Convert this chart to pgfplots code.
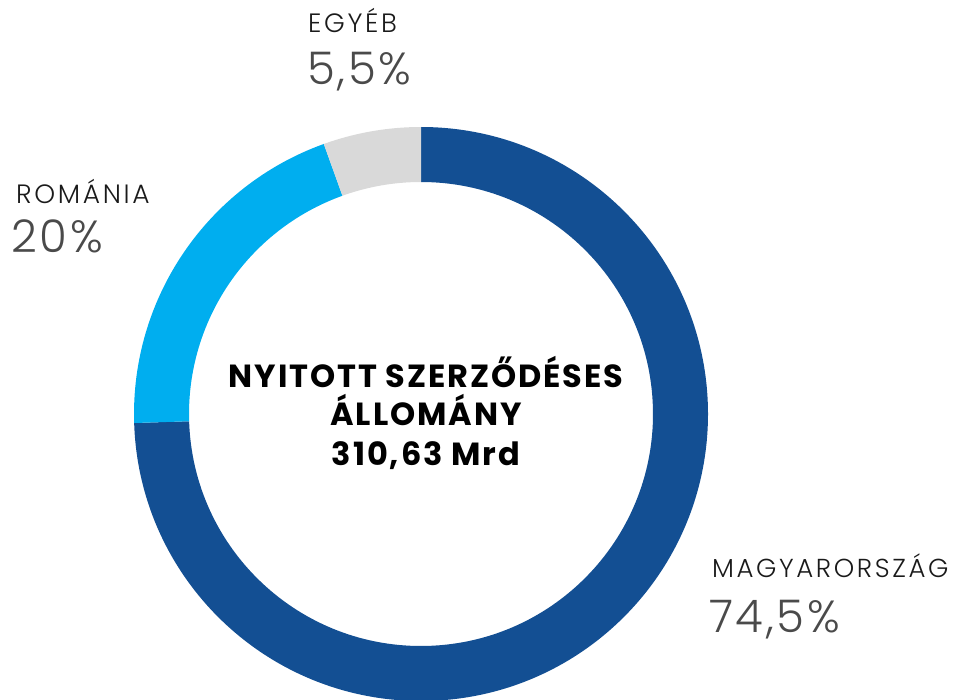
\documentclass[border=0pt]{standalone}
\usepackage{pgfplots}
\pgfplotsset{compat=1.18}
\usepackage{pgfplotstable}
\usepackage{fontspec}
\setmainfont{Poppins}
\newfontfamily\namefont{Poppins Light}[LetterSpace=10]
\newfontfamily\pctfont{Poppins Light}[LetterSpace=6]
\newfontfamily\ctrfont{Poppins}[LetterSpace=6]
\definecolor{cHU}{HTML}{134F93}
\definecolor{cRO}{HTML}{00AEEF}
\definecolor{cOT}{HTML}{D9D9D9}
\definecolor{pct}{HTML}{4A4A4A}
\definecolor{nm}{HTML}{1A1A1A}
\pgfplotstableread{
name share
HU 74.5
RO 20
OT 5.5
}\shares
\pgfplotstablegetelem{0}{share}\of\shares \let\vHU\pgfplotsretval
\pgfplotstablegetelem{1}{share}\of\shares \let\vRO\pgfplotsretval
\pgfplotstablegetelem{2}{share}\of\shares \let\vOT\pgfplotsretval
\begin{document}
\begin{tikzpicture}
\begin{axis}[at={(0,0)},anchor=south west,scale only axis,width=955bp,height=700bp,
  xmin=0,xmax=955,ymin=0,ymax=700,hide axis,clip=true]
\pgfmathsetmacro{\aA}{90}
\pgfmathsetmacro{\aB}{90-3.6*\vHU}
\pgfmathsetmacro{\aC}{\aB-3.6*\vRO}
\pgfmathsetmacro{\aD}{\aC-3.6*\vOT}
\def\cx{421}\def\cy{286}
\fill[cHU] (axis cs:{\cx+287*cos(\aA)},{\cy+287*sin(\aA)}) arc[start angle=\aA,end angle=\aB,radius=287bp] -- (axis cs:{\cx+232*cos(\aB)},{\cy+232*sin(\aB)}) arc[start angle=\aB,end angle=\aA,radius=232bp] -- cycle;
\fill[cRO] (axis cs:{\cx+287*cos(\aB)},{\cy+287*sin(\aB)}) arc[start angle=\aB,end angle=\aC,radius=287bp] -- (axis cs:{\cx+232*cos(\aC)},{\cy+232*sin(\aC)}) arc[start angle=\aC,end angle=\aB,radius=232bp] -- cycle;
\fill[cOT] (axis cs:{\cx+287*cos(\aC)},{\cy+287*sin(\aC)}) arc[start angle=\aC,end angle=\aD,radius=287bp] -- (axis cs:{\cx+232*cos(\aD)},{\cy+232*sin(\aD)}) arc[start angle=\aD,end angle=\aC,radius=232bp] -- cycle;
% labels
\node[anchor=base west,inner sep=0pt,text=nm,font=\namefont\fontsize{26.5bp}{26bp}\selectfont] at (axis cs:308,667) {EGYÉB};
\node[anchor=base west,inner sep=0pt,text=pct,font=\pctfont\fontsize{45bp}{45bp}\selectfont] at (axis cs:307,615) {5,5\%};
\node[anchor=base west,inner sep=0pt,text=nm,font=\namefont\fontsize{26.5bp}{26bp}\selectfont] at (axis cs:16,496) {ROMÁNIA};
\node[anchor=base west,inner sep=0pt,text=pct,font=\pctfont\fontsize{45bp}{45bp}\selectfont] at (axis cs:11,447) {20\%};
\node[anchor=base west,inner sep=0pt,text=nm,font=\namefont\fontsize{26bp}{26bp}\selectfont] at (axis cs:712,123) {MAGYARORSZÁG};
\node[anchor=base west,inner sep=0pt,text=pct,font=\pctfont\fontsize{45bp}{45bp}\selectfont] at (axis cs:709,68) {74,5\%};
% center
\node[anchor=base,inner sep=0pt,font=\ctrfont\bfseries\fontsize{32bp}{32bp}\selectfont] at (axis cs:426,313) {NYITOTT SZERZŐDÉSES};
\node[anchor=base,inner sep=0pt,font=\ctrfont\bfseries\fontsize{32bp}{32bp}\selectfont] at (axis cs:426,275) {ÁLLOMÁNY};
\node[anchor=base,inner sep=0pt,font=\ctrfont\bfseries\fontsize{32bp}{32bp}\selectfont] at (axis cs:426,235) {310,63 Mrd};
\end{axis}
\pgfresetboundingbox
\path (0,0) rectangle (955bp,700bp);
\end{tikzpicture}
\end{document}
